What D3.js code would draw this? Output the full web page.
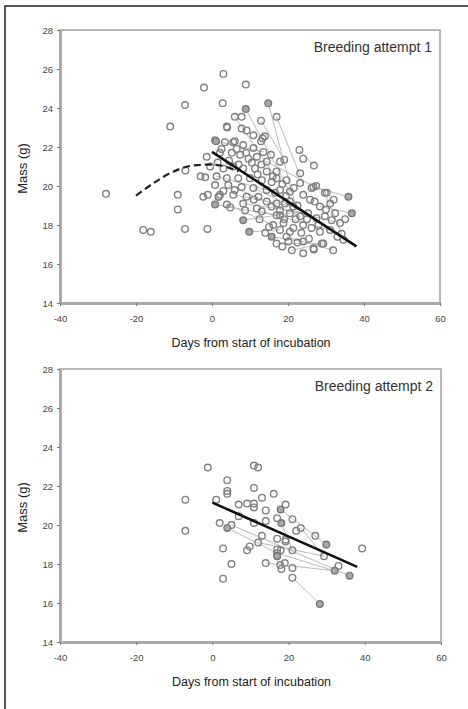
<!DOCTYPE html>
<html>
<head>
<meta charset="utf-8">
<script src="https://cdn.jsdelivr.net/npm/d3@7"></script>
<style>
  html, body { margin: 0; padding: 0; background: #fff; }
  svg { display: block; font-family: "Liberation Sans", Arial, sans-serif; }
</style>
</head>
<body>
<svg id="chart"></svg>
<script>
'use strict';

// axis ranges and ticks (shared by both panels)
var dayDomain = [-40, 60],
  dayTicks = [-40, -20, 0, 20, 40, 60],
  massDomain = [14, 28],
  massTicks = [14, 16, 18, 20, 22, 24, 26, 28];

// breeding attempt 1: [days, mass]
var attempt1Points = [
  [-27.9, 19.6], [-18.1, 17.75], [-16.1, 17.65], [-11, 23.05], [-9, 19.55], [-9, 18.8],
  [-7.1, 24.15], [-7, 20.8], [-7.1, 17.8], [-3, 20.5], [-2.1, 25.05], [-1.1, 19.55],
  [-1.2, 17.8], [-1.4, 21.5], [-0.5, 21.0], [-1.8, 20.45], [-2.3, 19.45],
  [1.8, 19.45], [3.9, 19.05], [3, 25.75], [2.8, 24.25], [3.9, 23.05], [6, 23.55], [6, 22.3],
  [8.9, 25.2], [7.8, 23.55], [12.9, 23.35], [17, 23.55], [4, 23.0], [7.8, 22.95], [9.1, 22.85],
  [0.8, 22.35], [3.4, 22.25], [5.6, 22.25], [10.9, 22.6], [13.3, 22.45], [13.9, 22.55],
  [12.9, 22.3], [8.2, 22.1], [10.9, 21.95], [13.5, 21.75],
  [2.1, 21.7], [5.2, 21.7], [7.4, 21.6], [9.6, 21.4], [11.8, 21.5], [14.4, 21.25], [17.9, 21.25],
  [19, 21.35], [23, 21.85], [24, 21.4], [26.8, 21.05],
  [3, 20.9], [5.6, 21.0], [8.2, 20.9], [11.3, 20.9], [14.4, 20.75], [17, 20.75], [23.2, 20.65],
  [1.2, 20.5], [3.9, 20.4], [6.9, 20.4], [10, 20.4], [13.1, 20.3], [15.7, 20.2], [17, 20.4],
  [19.6, 20.3], [23.2, 20.15], [26.7, 19.95], [26.2, 19.9], [27.4, 20.0], [29.7, 19.65], [30.2, 19.65],
  [0.8, 20.05], [4.3, 20.05], [7.8, 19.95], [10.9, 19.9], [14.4, 19.8], [17.9, 19.8], [20.5, 19.7],
  [24, 19.55], [25.8, 19.3],
  [2.1, 19.55], [5.6, 19.55], [9.1, 19.45], [12.2, 19.45], [16.6, 19.65], [1.7, 19.45],
  [8.2, 19.1], [11.8, 18.85], [15.7, 18.95], [17.9, 18.75], [14.4, 19.2], [8.7, 18.75],
  [13.1, 18.7], [17, 18.5], [17, 19.1], [19.2, 19.1], [21.4, 18.95], [28.4, 18.95], [31.1, 19.1],
  [17.9, 18.5], [20.5, 18.6], [23.2, 18.45], [25.3, 18.6], [27.5, 18.35], [29.7, 18.45],
  [31.5, 18.25], [33.7, 18.1], [32.4, 18.6],
  [16.1, 18.0], [18.8, 18.1], [21.4, 17.85], [24, 18.0], [26.2, 17.85], [28.4, 17.65],
  [31.1, 17.75], [34.1, 17.55],
  [17.9, 17.75], [20.5, 17.65], [19.6, 17.4], [20.1, 17.15], [24, 17.15], [26.7, 16.8],
  [29.3, 17.05], [31.9, 16.7], [34.6, 17.25], [17, 17.05], [21, 16.7], [24, 16.55],
  [26.8, 16.75], [28.9, 17.05],
  [1.5, 21.2], [2.5, 21.9], [4.5, 21.3], [6.5, 21.9], [7, 21.1], [9, 21.7], [10.5, 21.2],
  [12, 20.6], [13, 21.1], [15.5, 21.6], [16, 20.5], [18.5, 20.1], [19.5, 19.5], [20.5, 19.2],
  [21.5, 19.9], [22, 18.3], [22.5, 19.0], [23.5, 17.6], [25, 18.3], [27, 19.2], [28, 18.0],
  [30, 18.8], [32, 19.3], [33, 17.4], [35, 18.3], [25.5, 17.3], [22.5, 17.1], [18.5, 16.9],
  [19, 18.3], [11, 19.3], [6, 19.8], [3, 19.75], [4.8, 18.9], [12.5, 18.3], [15, 17.9], [14, 17.6]
];
var attempt1Dark = [
  [0.8, 19.05], [1.05, 22.3], [8.9, 23.95], [14.8, 24.25], [35.9, 19.45], [36.8, 18.6],
  [8.2, 18.25], [9.8, 17.65], [15.7, 17.4]
];
// repeated measures of the same bird: [days1, mass1, days2, mass2]
var attempt1Links = [
  [8.9, 23.95, 20.5, 19.7], [14.8, 24.25, 22, 19.0], [6, 23.55, 17, 20.4],
  [35.9, 19.45, 26.7, 19.95], [36.8, 18.6, 28.4, 18.95], [0.8, 19.05, 17, 18.5],
  [8.2, 18.25, 20.5, 18.6], [9.8, 17.65, 17.9, 17.75], [15.7, 17.4, 24, 17.15],
  [3.9, 19.05, 16.1, 18.0], [5.6, 19.55, 21.4, 18.95], [1.2, 20.5, 14.4, 19.8],
  [17, 23.55, 24, 20.15], [29.7, 19.65, 34.1, 17.55], [13.1, 18.7, 31.1, 17.75],
  [17, 17.05, 29.3, 17.05], [19.6, 17.4, 31.9, 16.7], [10.9, 19.9, 27.5, 18.35],
  [8.2, 19.1, 25.3, 18.6], [14.4, 21.25, 30.2, 19.65], [15.7, 18.95, 33.7, 18.1],
  [21, 16.7, 28.9, 17.05], [4.3, 20.05, 23.2, 18.45], [1.05, 22.3, 13.5, 21.75],
  [12.9, 23.35, 19, 21.35], [23, 21.85, 26.8, 21.05]
];
var attempt1Fit = [[0, 21.75], [38, 16.9]];
var attempt1PreFit = [[-20, 19.5], [-15, 20.2], [-10, 20.75], [-5, 21.05], [0, 21.1], [5, 20.9], [7, 20.75]];

// breeding attempt 2
var attempt2Points = [
  [-1.2, 22.95], [10.9, 23.05], [12, 22.95], [3.9, 22.3], [3.9, 21.75], [3.9, 21.6], [10.9, 21.9],
  [16.1, 21.6], [-7.1, 21.3], [1, 21.3], [13, 21.4], [6.9, 21.05], [9.1, 21.1], [10.9, 21.1],
  [10.9, 20.9], [19.2, 21.05], [14, 20.75], [6.9, 20.45], [14, 20.2], [17, 20.35], [21, 20.3],
  [1.9, 20.1], [10.9, 20.1], [5, 20.0], [-7.1, 19.7], [23.2, 19.85], [22, 19.7], [13, 19.45],
  [17, 19.3], [19.2, 19.25], [19.2, 19.15], [27, 19.45], [12, 19.1], [9.8, 18.9], [9.1, 18.7],
  [2.8, 18.8], [17, 18.75], [17, 18.55], [17.9, 18.7], [21, 18.7], [29.3, 18.4], [39.3, 18.8],
  [14, 18.05], [5, 18.0], [19, 18.05], [17.8, 17.95], [18.1, 17.75], [21, 17.8], [33.1, 17.9],
  [2.8, 17.25], [21, 17.3]
];
var attempt2Dark = [
  [17.9, 20.8], [18.1, 20.1], [3.9, 19.85], [29.9, 19.0], [17, 18.4], [32.1, 17.65], [36, 17.4],
  [28.2, 15.95]
];
var attempt2Links = [
  [3.9, 19.85, 17, 18.55], [17, 18.55, 32.1, 17.65], [5, 20.0, 36, 17.4],
  [17.9, 20.8, 29.9, 19.0], [23.2, 19.85, 29.3, 18.4], [21, 17.3, 28.2, 15.95],
  [18.1, 20.1, 21, 18.7], [12, 19.1, 29.3, 18.4], [14, 18.05, 32.1, 17.65]
];
var attempt2Fit = [[0, 21.15], [38, 17.85]];

var width = 468,
  height = 709,
  dayLabel = 'Days from start of incubation',
  massLabel = 'Mass (g)';

var svg = d3.select('#chart').attr('width', width).attr('height', height);

// figure border (left and top edges visible)
svg.append('path')
  .attr('d', 'M5,709 L5,6 L468,6')
  .attr('fill', 'none')
  .attr('stroke', '#555')
  .attr('stroke-width', 2);

function drawPanel(opts) {
  var x = d3.scaleLinear().domain(dayDomain).range([opts.left, opts.right]),
    y = d3.scaleLinear().domain(massDomain).range([opts.bottom, opts.top]),
    g = svg.append('g'),
    fmt = function (d) { return String(d); };

  // frame
  g.append('rect')
    .attr('x', opts.left).attr('y', opts.top)
    .attr('width', opts.right - opts.left).attr('height', opts.bottom - opts.top)
    .attr('fill', 'none').attr('stroke', '#a0a0a0').attr('stroke-width', 1.5);

  var yAxis = g.append('g')
    .attr('transform', 'translate(' + opts.left + ',0)')
    .call(d3.axisLeft(y).tickValues(massTicks).tickSize(3).tickSizeOuter(0).tickPadding(4).tickFormat(fmt));
  var xAxis = g.append('g')
    .attr('transform', 'translate(0,' + opts.bottom + ')')
    .call(d3.axisBottom(x).tickValues(dayTicks).tickSize(3).tickSizeOuter(0).tickPadding(9).tickFormat(fmt));

  [yAxis, xAxis].forEach(function (a) {
    a.select('.domain').attr('stroke', '#aaa').attr('stroke-width', 3);
    a.selectAll('.tick line').attr('stroke', '#777').attr('stroke-width', 1);
    a.selectAll('.tick text').attr('fill', '#444').style('font-size', '9.5px')
      .style('font-family', '"Liberation Sans", Arial, sans-serif');
  });

  // links between repeat captures
  g.append('g').selectAll('line').data(opts.links).enter().append('line')
    .attr('x1', function (d) { return x(d[0]); })
    .attr('y1', function (d) { return y(d[1]); })
    .attr('x2', function (d) { return x(d[2]); })
    .attr('y2', function (d) { return y(d[3]); })
    .attr('stroke', '#bbb').attr('stroke-width', 1);

  var dots = g.append('g');
  dots.selectAll('circle.open').data(opts.points).enter().append('circle')
    .attr('class', 'open')
    .attr('cx', function (d) { return x(d[0]); })
    .attr('cy', function (d) { return y(d[1]); })
    .attr('r', 3.3)
    .attr('fill', 'none').attr('stroke', '#808080').attr('stroke-width', 1.4);
  dots.selectAll('circle.dark').data(opts.dark).enter().append('circle')
    .attr('class', 'dark')
    .attr('cx', function (d) { return x(d[0]); })
    .attr('cy', function (d) { return y(d[1]); })
    .attr('r', 3.3)
    .attr('fill', '#a8a8a8').attr('stroke', '#777').attr('stroke-width', 1.4);

  var line = d3.line().x(function (d) { return x(d[0]); }).y(function (d) { return y(d[1]); });
  if (opts.preFit) {
    g.append('path').datum(opts.preFit)
      .attr('d', line.curve(d3.curveMonotoneX))
      .attr('fill', 'none').attr('stroke', '#222').attr('stroke-width', 2.2)
      .attr('stroke-dasharray', '7,4');
  }
  g.append('path').datum(opts.fit)
    .attr('d', d3.line().x(function (d) { return x(d[0]); }).y(function (d) { return y(d[1]); }))
    .attr('fill', 'none').attr('stroke', '#111').attr('stroke-width', 2.6);

  g.append('text')
    .attr('x', opts.right - 8).attr('y', opts.top + 22)
    .attr('text-anchor', 'end')
    .attr('fill', '#333').style('font-size', '14px')
    .text(opts.title);

  g.append('text')
    .attr('x', (opts.left + opts.right) / 2 + 1).attr('y', opts.bottom + 44)
    .attr('text-anchor', 'middle')
    .attr('fill', '#222').style('font-size', '12.5px')
    .text(dayLabel);

  g.append('text')
    .attr('transform', 'translate(27,' + ((opts.top + opts.bottom) / 2 + 2) + ') rotate(-90)')
    .attr('text-anchor', 'middle')
    .attr('fill', '#222').style('font-size', '13px')
    .text(massLabel);
}

drawPanel({
  left: 60, right: 440, top: 30, bottom: 303,
  points: attempt1Points, dark: attempt1Dark, links: attempt1Links,
  fit: attempt1Fit, preFit: attempt1PreFit, title: 'Breeding attempt 1'
});

drawPanel({
  left: 60, right: 441, top: 369, bottom: 642,
  points: attempt2Points, dark: attempt2Dark, links: attempt2Links,
  fit: attempt2Fit, preFit: null, title: 'Breeding attempt 2'
});
</script>
</body>
</html>
